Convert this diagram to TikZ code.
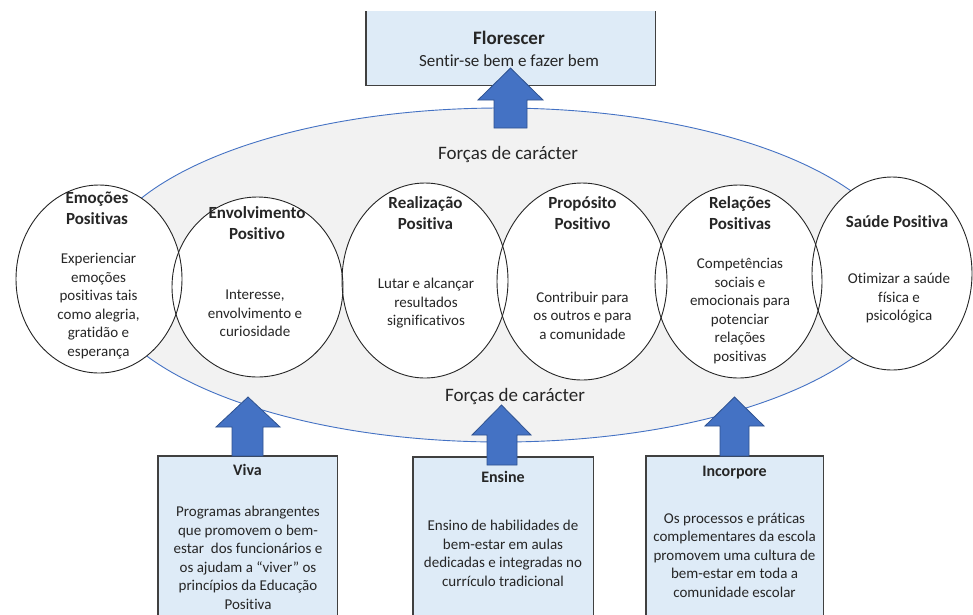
\documentclass[tikz,border=0pt]{standalone}
\usepackage{fontspec}
\setmainfont{Carlito}[Ligatures={NoCommon}]
\usetikzlibrary{shapes.geometric}
\definecolor{boxfill}{HTML}{DEEBF7}
\definecolor{boxline}{HTML}{404040}
\definecolor{arrfill}{HTML}{4472C4}
\definecolor{arrline}{HTML}{2F528F}
\definecolor{ellfill}{HTML}{F2F2F2}
\definecolor{ellline}{HTML}{4472C4}
\definecolor{txt}{HTML}{262626}
\begin{document}
\begin{tikzpicture}[x=1pt,y=-1pt,
  ttl/.style={font=\fontsize{17}{21}\selectfont\bfseries, text=txt, align=center, inner sep=0pt},
  bttl/.style={font=\fontsize{16}{20}\selectfont\bfseries, text=txt, align=center, inner sep=0pt},
  body/.style={font=\fontsize{15}{18.5}\selectfont, text=txt, align=center, inner sep=0pt},
  forcas/.style={font=\fontsize{19}{23}\selectfont, text=txt, inner sep=0pt},
  circfill/.style={ellipse, fill=white, draw=none, inner sep=0pt},
  circline/.style={draw=black!85, line width=0.9pt},
  boxnode/.style={fill=boxfill, draw=none, inner sep=0pt, anchor=north west},
  boxborder/.style={draw=boxline, line width=1.3pt},
  bigarrow/.style={fill=arrfill, draw=arrline, line width=0.8pt, line join=miter}]
\clip (0,0) rectangle (973,614);
\fill[white] (0,0) rectangle (973,614);

% top box
\node[boxnode, minimum width=289pt, minimum height=74pt] (flor) at (366,11) {};
\draw[boxborder] (flor.north west) -- (flor.south west) -- (flor.south east) -- (flor.north east);
\node[font=\fontsize{19}{23}\selectfont\bfseries, text=txt, inner sep=0pt] (florT) at (509,38) {Florescer};
\node[font=\fontsize{17}{21}\selectfont, text=txt, inner sep=0pt] (florB) at (509,61) {Sentir-se bem e fazer bem};

% big ellipse
\node[ellipse, fill=ellfill, draw=ellline, line width=0.9pt, minimum width=810pt, minimum height=334pt, inner sep=0pt] (big) at (501,275) {};
\node[forcas] (fTop) at (508,154) {Forças de carácter};
\node[forcas] (fBot) at (515,396) {Forças de carácter};

% top arrow
\draw[bigarrow] (494,128) -- (494,100) -- (478,100) -- (510.5,68) -- (543,100) -- (527,100) -- (527,128) -- cycle;

% circles
\node[circfill, minimum width=166pt, minimum height=188pt] (c1) at (99,279) {};
\node[circfill, minimum width=171pt, minimum height=180pt] (c2) at (257.5,287) {};
\node[circfill, minimum width=166pt, minimum height=195pt] (c3) at (425,280.5) {};
\node[circfill, minimum width=170pt, minimum height=197pt] (c4) at (582,281.5) {};
\node[circfill, minimum width=167pt, minimum height=193pt] (c5) at (738.5,281.5) {};
\node[circfill, minimum width=160pt, minimum height=193pt] (c6) at (892,273.5) {};
\draw[circline] (c1.center) ellipse [x radius=83, y radius=94];
\draw[circline] (c2.center) ellipse [x radius=85.5, y radius=90];
\draw[circline] (c3.center) ellipse [x radius=83, y radius=97.5];
\draw[circline] (c4.center) ellipse [x radius=85, y radius=98.5];
\draw[circline] (c5.center) ellipse [x radius=83.5, y radius=96.5];
\draw[circline] (c6.center) ellipse [x radius=80, y radius=96.5];

% circle texts
\node[ttl] (t1) at (97,208) {Emoções\\Positivas};
\node[body] (b1) at (98.5,306) {Experienciar\\emoções\\positivas tais\\como alegria,\\gratidão e\\esperança};
\node[ttl] (t2) at (257,223) {Envolvimento\\Positivo};
\node[body] (b2) at (255,313.5) {Interesse,\\envolvimento e\\curiosidade};
\node[ttl] (t3) at (425.5,213.5) {Realização\\Positiva};
\node[body] (b3) at (426,303.5) {Lutar e alcançar\\resultados\\significativos};
\node[ttl] (t4) at (582.5,213.5) {Propósito\\Positivo};
\node[body] (b4) at (582.5,315.5) {Contribuir para\\os outros e para\\a comunidade};
\node[ttl] (t5) at (740,213.5) {Relações\\Positivas};
\node[body] (b5) at (740,311) {Competências\\sociais e\\emocionais para\\potenciar\\relações\\positivas};
\node[ttl] (t6) at (897,222) {Saúde Positiva};
\node[body] (b6) at (899,298.5) {Otimizar a saúde\\física e\\psicológica};

% bottom boxes
\node[boxnode, minimum width=179pt, minimum height=180pt] (viva) at (158,456) {};
\draw[boxborder] (viva.south west) -- (viva.north west) -- (viva.north east) -- (viva.south east);
\node[boxnode, minimum width=180pt, minimum height=180pt] (ens) at (413,457) {};
\draw[boxborder] (ens.south west) -- (ens.north west) -- (ens.north east) -- (ens.south east);
\node[boxnode, minimum width=177pt, minimum height=180pt] (inc) at (646,456) {};
\draw[boxborder] (inc.south west) -- (inc.north west) -- (inc.north east) -- (inc.south east);

% bottom arrows
\draw[bigarrow] (232,456) -- (232,427) -- (216,427) -- (248,397) -- (280,427) -- (263,427) -- (263,456) -- cycle;
\draw[bigarrow] (487,465) -- (487,435) -- (472,435) -- (501.5,405) -- (531,435) -- (517,435) -- (517,465) -- cycle;
\draw[bigarrow] (720,456) -- (720,426) -- (705,426) -- (734.5,397) -- (764,426) -- (749,426) -- (749,456) -- cycle;

% bottom texts
\node[bttl] (vivaT) at (247.5,470) {Viva};
\node[body] (vivaB) at (248,558) {Programas abrangentes\\que promovem o bem-\\estar\ \ dos funcionários e\\os ajudam a “viver” os\\princípios da Educação\\Positiva};
\node[bttl] (ensT) at (503,477) {Ensine};
\node[body] (ensB) at (503,553.5) {Ensino de habilidades de\\bem-estar em aulas\\dedicadas e integradas no\\currículo tradicional};
\node[bttl] (incT) at (734.5,473) {Incorpore};
\node[body] (incB) at (734.5,555) {Os processos e práticas\\complementares da escola\\promovem uma cultura de\\bem-estar em toda a\\comunidade escolar};
\end{tikzpicture}
\end{document}
